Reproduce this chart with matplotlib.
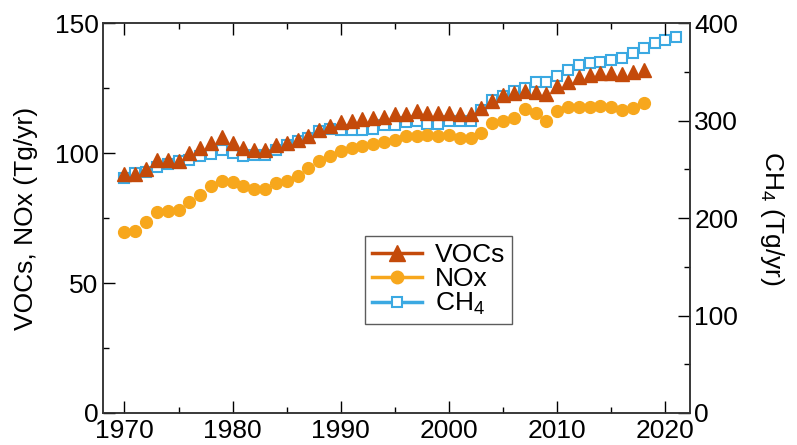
import numpy as np
import matplotlib
matplotlib.use("Agg")
import matplotlib.pyplot as plt
from matplotlib.lines import Line2D
from matplotlib.ticker import MultipleLocator

plt.rcParams['font.family'] = ['Liberation Sans', 'DejaVu Sans']
plt.rcParams['mathtext.default'] = 'regular'

# emission data
years = np.arange(1970, 2019)
years_ch4 = np.arange(1970, 2022)

vocs = [92, 92, 94, 97.5, 97.5, 97, 100, 102, 104, 106,
        104, 102, 101, 101, 103, 104, 105, 106.5, 109, 110.5,
        112, 112.5, 113, 113.5, 114, 115, 115.2, 116, 115.4, 115.5,
        115.4, 115.2, 115.2, 117.3, 120.2, 122.4, 123.1, 123.7, 123.5, 122.7,
        125.9, 127.3, 129.1, 130.1, 130.7, 130.7, 130.3, 131.1, 132]

nox = [69.5, 70, 73.3, 77.5, 77.8, 78.2, 81.2, 84, 87.5, 89.2,
       88.8, 87.4, 86.2, 86, 88.3, 89.2, 91.2, 94.1, 96.9, 99,
       100.8, 101.8, 102.8, 103.4, 104.2, 105, 106.5, 106.7, 106.9, 106.5,
       106.8, 105.8, 105.7, 107.6, 111.6, 112.4, 113.5, 116.9, 115.4, 112.3,
       116.3, 117.7, 117.6, 117.6, 118, 117.6, 116.7, 117.3, 119.2]

ch4 = [241.5, 246.5, 247, 252.6, 255, 258.5, 260, 263.6, 265.3, 269.7,
       267, 263.6, 265, 265, 269.5, 275, 279, 282, 289, 291.8,
       290.8, 290, 290, 291, 295.2, 295.9, 298.6, 299.3, 296.5, 296.5,
       300, 300, 300, 311, 321, 325.5, 329.9, 333.3, 339.4, 339.4,
       346.2, 352, 357.1, 358.8, 360.5, 362.2, 363.9, 369, 374.1, 379.2,
       382.6, 386]

c_voc = '#C44A0A'
c_nox = '#F7A71C'
c_ch4 = '#3BA9E2'

fig = plt.figure(figsize=(7.97, 4.45), dpi=100)
ax1 = fig.add_axes([0.129, 0.072, 0.737, 0.876])
ax2 = ax1.twinx()
# keep VOC triangles above the CH4 squares
ax1.set_zorder(ax2.get_zorder() + 1)
ax1.patch.set_visible(False)

ax2.plot(years_ch4, ch4, ls='none', marker='s', ms=7.5, mfc='white',
         mec=c_ch4, mew=1.5)
ax1.plot(years, nox, ls='none', marker='o', ms=8.5, color=c_nox)
ax1.plot(years, vocs, ls='none', marker='^', ms=9.5, color=c_voc)

ax1.set_xlim(1968, 2022.3)
ax1.set_ylim(0, 150)
ax2.set_ylim(0, 400)

ax1.xaxis.set_major_locator(MultipleLocator(10))
ax1.xaxis.set_minor_locator(MultipleLocator(5))
ax1.yaxis.set_major_locator(MultipleLocator(50))
ax1.yaxis.set_minor_locator(MultipleLocator(25))
ax2.yaxis.set_major_locator(MultipleLocator(100))
ax2.yaxis.set_minor_locator(MultipleLocator(50))

fs = 19
ax1.tick_params(axis='both', which='major', direction='in', length=8.5,
                width=1, labelsize=fs, top=True)
ax1.tick_params(axis='x', which='major', pad=4.5)
ax1.tick_params(axis='y', which='major', pad=3)
ax1.tick_params(axis='both', which='minor', direction='in', length=4.5,
                width=1, top=True)
ax1.tick_params(axis='y', right=False, which='both')
ax2.tick_params(axis='y', which='major', direction='in', length=8.5,
                width=1, labelsize=fs, pad=3)
ax2.tick_params(axis='y', which='minor', direction='in', length=4.5, width=1)

for ax in (ax1, ax2):
    for sp in ax.spines.values():
        sp.set_linewidth(1.1)
        sp.set_color('#333333')

ax1.set_ylabel('VOCs, NOx (Tg/yr)', fontsize=fs, labelpad=12)
ax2.set_ylabel('CH$_4$ (Tg/yr)', fontsize=fs, rotation=270, labelpad=34)

handles = [
    Line2D([], [], color=c_voc, lw=2.5, marker='^', ms=11),
    Line2D([], [], color=c_nox, lw=2.5, marker='o', ms=9),
    Line2D([], [], color=c_ch4, lw=2.5, marker='s', ms=7.5, mfc='white', mew=1.5),
]
leg = ax1.legend(handles, ['VOCs', 'NOx', 'CH$_4$'], loc='center',
                 bbox_to_anchor=(0.572, 0.341), fontsize=fs, frameon=True,
                 fancybox=False, edgecolor='#333333', handlelength=1.9,
                 handletextpad=0.5, labelspacing=0.0, borderpad=0.25)
leg.get_frame().set_linewidth(1.0)

fig.savefig('out.png', dpi=100)
